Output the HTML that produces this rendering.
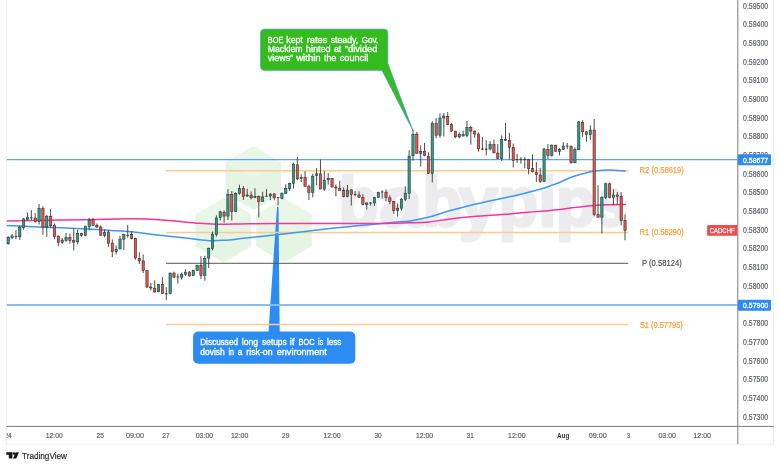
<!DOCTYPE html>
<html><head><meta charset="utf-8"><title>CADCHF chart</title>
<style>html,body{margin:0;padding:0;background:#fff;width:780px;height:467px;overflow:hidden}
body{font-family:"Liberation Sans",sans-serif;position:relative}</style></head>
<body>
<svg width="780" height="467" viewBox="0 0 780 467" style="position:absolute;left:0;top:0;will-change:transform;font-family:'Liberation Sans',sans-serif">
<rect width="780" height="467" fill="#fff"/>
<line x1="6.3" y1="0" x2="6.3" y2="444" stroke="#eeeeef" stroke-width="1"/>
<line x1="773.5" y1="0" x2="773.5" y2="444" stroke="#eeeeef" stroke-width="1"/>
<line x1="6" y1="444.3" x2="774" y2="444.3" stroke="#eeeeef" stroke-width="1"/>
<g fill="#e6f4e3">
<polygon points="253.4,145.9 281.2,161.9 281.2,194.1 253.4,210.1 225.6,194.1 225.6,161.9"/>
<polygon points="223.4,198.2 251.2,214.2 251.2,246.4 223.4,262.4 195.6,246.4 195.6,214.2"/>
<polygon points="284.0,198.2 311.8,214.2 311.8,246.4 284.0,262.4 256.2,246.4 256.2,214.2"/>
</g>
<g fill="#ffffff" opacity="0.18">
<polygon points="253.4,145.9 281.2,161.9 253.4,178.0 225.6,161.9"/>
<polygon points="223.4,198.2 251.2,214.2 223.4,230.3 195.6,214.2"/>
<polygon points="284.0,198.2 311.8,214.2 284.0,230.3 256.2,214.2"/>
</g>
<g font-size="70" font-weight="bold" fill="#ececee" stroke="#ececee" stroke-width="3" stroke-linejoin="round">
<text x="338.5" y="226" textLength="40.0" lengthAdjust="spacingAndGlyphs">b</text>
<text x="379.2" y="226" textLength="42.8" lengthAdjust="spacingAndGlyphs">a</text>
<text x="422.5" y="226" textLength="39.6" lengthAdjust="spacingAndGlyphs">b</text>
<text x="458.4" y="226" textLength="39.5" lengthAdjust="spacingAndGlyphs">y</text>
<text x="498.4" y="226" textLength="39.6" lengthAdjust="spacingAndGlyphs">p</text>
<text x="538.4" y="226" textLength="17.8" lengthAdjust="spacingAndGlyphs">i</text>
<text x="556.0" y="226" textLength="39.3" lengthAdjust="spacingAndGlyphs">p</text>
<text x="597.7" y="226" textLength="26.1" lengthAdjust="spacingAndGlyphs">s</text>
</g>
<g>
<polygon points="381.8,70 388,64 413,130.8" fill="#34bc1f" stroke="#3b8fd9" stroke-width="0.6"/>
<rect x="260.5" y="29.1" width="127.4" height="41.3" rx="4" fill="#34bc1f" stroke="#5b9fd8" stroke-width="0.7"/>
<polygon points="381.8,70 388,64 392,76" fill="#34bc1f"/>
<text x="267.8" y="42.6" font-size="8.4" fill="#fff" stroke="#fff" stroke-width="0.3" textLength="15.5" lengthAdjust="spacingAndGlyphs">BOE</text>
<text x="286.3" y="42.6" font-size="8.4" fill="#fff" stroke="#fff" stroke-width="0.3" textLength="16.5" lengthAdjust="spacingAndGlyphs">kept</text>
<text x="306.7" y="42.6" font-size="8.4" fill="#fff" stroke="#fff" stroke-width="0.3" textLength="20.6" lengthAdjust="spacingAndGlyphs">rates</text>
<text x="330.7" y="42.6" font-size="8.4" fill="#fff" stroke="#fff" stroke-width="0.3" textLength="27.6" lengthAdjust="spacingAndGlyphs">steady,</text>
<text x="361.7" y="42.6" font-size="8.4" fill="#fff" stroke="#fff" stroke-width="0.3" textLength="16.5" lengthAdjust="spacingAndGlyphs">Gov.</text>
<text x="267.8" y="51.9" font-size="8.4" fill="#fff" stroke="#fff" stroke-width="0.3" textLength="34.7" lengthAdjust="spacingAndGlyphs">Macklem</text>
<text x="305.8" y="51.9" font-size="8.4" fill="#fff" stroke="#fff" stroke-width="0.3" textLength="24.9" lengthAdjust="spacingAndGlyphs">hinted</text>
<text x="334.0" y="51.9" font-size="8.4" fill="#fff" stroke="#fff" stroke-width="0.3" textLength="7.2" lengthAdjust="spacingAndGlyphs">at</text>
<text x="344.8" y="51.9" font-size="8.4" fill="#fff" stroke="#fff" stroke-width="0.3" textLength="32.5" lengthAdjust="spacingAndGlyphs">&quot;divided</text>
<text x="267.8" y="61.2" font-size="8.4" fill="#fff" stroke="#fff" stroke-width="0.3" textLength="25.5" lengthAdjust="spacingAndGlyphs">views&quot;</text>
<text x="296.2" y="61.2" font-size="8.4" fill="#fff" stroke="#fff" stroke-width="0.3" textLength="24.5" lengthAdjust="spacingAndGlyphs">within</text>
<text x="324.0" y="61.2" font-size="8.4" fill="#fff" stroke="#fff" stroke-width="0.3" textLength="12.2" lengthAdjust="spacingAndGlyphs">the</text>
<text x="339.8" y="61.2" font-size="8.4" fill="#fff" stroke="#fff" stroke-width="0.3" textLength="28.4" lengthAdjust="spacingAndGlyphs">council</text>
</g>
<g>
<polygon points="277.0,206.9 278.5,206.9 279.7,333 268.4,333" fill="#2d8cf3"/>
<rect x="193.1" y="331.5" width="162.2" height="32.3" rx="5" fill="#2d8cf3"/>
<text x="200.2" y="345.4" font-size="8.4" fill="#fff" stroke="#fff" stroke-width="0.3" textLength="37.9" lengthAdjust="spacingAndGlyphs">Discussed</text>
<text x="241.8" y="345.4" font-size="8.4" fill="#fff" stroke="#fff" stroke-width="0.3" textLength="16.4" lengthAdjust="spacingAndGlyphs">long</text>
<text x="262.1" y="345.4" font-size="8.4" fill="#fff" stroke="#fff" stroke-width="0.3" textLength="24.6" lengthAdjust="spacingAndGlyphs">setups</text>
<text x="289.8" y="345.4" font-size="8.4" fill="#fff" stroke="#fff" stroke-width="0.3" textLength="4.7" lengthAdjust="spacingAndGlyphs">if</text>
<text x="298.6" y="345.4" font-size="8.4" fill="#fff" stroke="#fff" stroke-width="0.3" textLength="16.0" lengthAdjust="spacingAndGlyphs">BOC</text>
<text x="318.1" y="345.4" font-size="8.4" fill="#fff" stroke="#fff" stroke-width="0.3" textLength="5.1" lengthAdjust="spacingAndGlyphs">is</text>
<text x="326.9" y="345.4" font-size="8.4" fill="#fff" stroke="#fff" stroke-width="0.3" textLength="14.4" lengthAdjust="spacingAndGlyphs">less</text>
<text x="200.2" y="354.7" font-size="8.4" fill="#fff" stroke="#fff" stroke-width="0.3" textLength="24.6" lengthAdjust="spacingAndGlyphs">dovish</text>
<text x="228.5" y="354.7" font-size="8.4" fill="#fff" stroke="#fff" stroke-width="0.3" textLength="5.5" lengthAdjust="spacingAndGlyphs">in</text>
<text x="237.7" y="354.7" font-size="8.4" fill="#fff" stroke="#fff" stroke-width="0.3" textLength="4.5" lengthAdjust="spacingAndGlyphs">a</text>
<text x="246.3" y="354.7" font-size="8.4" fill="#fff" stroke="#fff" stroke-width="0.3" textLength="26.3" lengthAdjust="spacingAndGlyphs">risk-on</text>
<text x="276.7" y="354.7" font-size="8.4" fill="#fff" stroke="#fff" stroke-width="0.3" textLength="50.2" lengthAdjust="spacingAndGlyphs">environment</text>
</g>
<line x1="6.8" y1="159.6" x2="737.3" y2="159.6" stroke="#5aa5f2" stroke-width="1.3"/>
<line x1="6.8" y1="304.9" x2="737.3" y2="304.9" stroke="#85bdf7" stroke-width="2"/>
<line x1="166" y1="170.7" x2="628.3" y2="170.7" stroke="#f9ca96" stroke-width="1.5"/>
<line x1="166" y1="232.4" x2="628.3" y2="232.4" stroke="#f9ca96" stroke-width="1.5"/>
<line x1="166" y1="324.5" x2="628.3" y2="324.5" stroke="#f9ca96" stroke-width="1.5"/>
<line x1="166" y1="263.3" x2="628.3" y2="263.3" stroke="#555" stroke-width="1"/>
<path d="M6.80,225.40 C11.13,225.62 23.68,226.32 32.80,226.70 C41.92,227.08 53.30,227.37 61.50,227.70 C69.70,228.03 73.78,228.25 82.00,228.70 C90.22,229.15 102.58,229.88 110.80,230.40 C119.02,230.92 123.10,230.98 131.30,231.80 C139.50,232.62 150.22,234.17 160.00,235.30 C169.78,236.43 181.78,237.70 190.00,238.60 C198.22,239.50 203.47,240.43 209.30,240.70 C215.13,240.97 219.65,240.55 225.00,240.20 C230.35,239.85 230.57,239.77 241.40,238.60 C252.23,237.43 275.23,234.87 290.00,233.20 C304.77,231.53 318.33,229.87 330.00,228.60 C341.67,227.33 351.38,226.45 360.00,225.60 C368.62,224.75 375.03,224.13 381.70,223.50 C388.37,222.87 395.28,222.23 400.00,221.80 C404.72,221.37 405.12,221.70 410.00,220.90 C414.88,220.10 422.87,218.65 429.30,217.00 C435.73,215.35 442.18,212.83 448.60,211.00 C455.02,209.17 461.38,207.57 467.80,206.00 C474.22,204.43 480.67,203.03 487.10,201.60 C493.53,200.17 499.97,198.83 506.40,197.40 C512.83,195.97 519.27,194.62 525.70,193.00 C532.13,191.38 540.55,189.03 545.00,187.70 C549.45,186.37 549.90,185.92 552.40,185.00 C554.90,184.08 556.73,183.53 560.00,182.20 C563.27,180.87 567.83,178.50 572.00,177.00 C576.17,175.50 581.35,174.18 585.00,173.20 C588.65,172.22 590.90,171.60 593.90,171.10 C596.90,170.60 600.15,170.38 603.00,170.20 C605.85,170.02 608.50,169.97 611.00,170.00 C613.50,170.03 615.58,170.18 618.00,170.40 C620.42,170.62 624.25,171.15 625.50,171.30" fill="none" stroke="#3f97f3" stroke-width="1.5" stroke-linejoin="round"/>
<path d="M6.80,221.10 C11.13,221.00 20.27,220.73 32.80,220.50 C45.33,220.27 66.30,219.98 82.00,219.70 C97.70,219.42 116.27,218.93 127.00,218.80 C137.73,218.67 139.23,218.60 146.40,218.90 C153.57,219.20 161.90,219.92 170.00,220.60 C178.10,221.28 187.38,222.40 195.00,223.00 C202.62,223.60 206.53,224.08 215.70,224.20 C224.87,224.32 237.62,223.82 250.00,223.70 C262.38,223.58 276.67,223.53 290.00,223.50 C303.33,223.47 314.72,223.52 330.00,223.50 C345.28,223.48 368.37,223.52 381.70,223.40 C395.03,223.28 402.07,223.05 410.00,222.80 C417.93,222.55 422.87,222.50 429.30,221.90 C435.73,221.30 442.18,220.00 448.60,219.20 C455.02,218.40 461.38,217.72 467.80,217.10 C474.22,216.48 480.67,215.98 487.10,215.50 C493.53,215.02 499.97,214.72 506.40,214.20 C512.83,213.68 519.27,212.95 525.70,212.40 C532.13,211.85 539.28,211.38 545.00,210.90 C550.72,210.42 555.50,210.02 560.00,209.50 C564.50,208.98 566.35,208.48 572.00,207.80 C577.65,207.12 587.57,205.90 593.90,205.40 C600.23,204.90 604.65,204.93 610.00,204.80 C615.35,204.67 623.33,204.63 626.00,204.60" fill="none" stroke="#f5359a" stroke-width="1.5" stroke-linejoin="round"/>
<g>
<line x1="8.22" y1="236.4" x2="8.22" y2="244.5" stroke="#383838" stroke-width="0.9"/>
<rect x="7.07" y="237.2" width="2.30" height="6.6" fill="#26a08c" stroke="#2a2a2a" stroke-width="0.55"/>
<line x1="12.08" y1="233.9" x2="12.08" y2="239.3" stroke="#383838" stroke-width="0.9"/>
<rect x="10.93" y="235.9" width="2.30" height="1.8" fill="#26a08c" stroke="#2a2a2a" stroke-width="0.55"/>
<line x1="15.93" y1="230.3" x2="15.93" y2="239.3" stroke="#383838" stroke-width="0.9"/>
<line x1="14.63" y1="236.4" x2="17.23" y2="236.4" stroke="#333" stroke-width="0.9"/>
<line x1="19.79" y1="225.6" x2="19.79" y2="240.0" stroke="#383838" stroke-width="0.9"/>
<rect x="18.64" y="227.1" width="2.30" height="9.7" fill="#26a08c" stroke="#2a2a2a" stroke-width="0.55"/>
<line x1="23.64" y1="217.9" x2="23.64" y2="229.7" stroke="#383838" stroke-width="0.9"/>
<rect x="22.49" y="219.0" width="2.30" height="8.5" fill="#26a08c" stroke="#2a2a2a" stroke-width="0.55"/>
<line x1="27.49" y1="212.7" x2="27.49" y2="220.7" stroke="#383838" stroke-width="0.9"/>
<rect x="26.34" y="217.1" width="2.30" height="2.3" fill="#26a08c" stroke="#2a2a2a" stroke-width="0.55"/>
<line x1="31.35" y1="210.2" x2="31.35" y2="220.1" stroke="#383838" stroke-width="0.9"/>
<line x1="30.05" y1="217.8" x2="32.65" y2="217.8" stroke="#333" stroke-width="0.9"/>
<line x1="35.20" y1="213.0" x2="35.20" y2="222.6" stroke="#383838" stroke-width="0.9"/>
<rect x="34.05" y="218.1" width="2.30" height="3.6" fill="#ee4f49" stroke="#2a2a2a" stroke-width="0.55"/>
<line x1="39.06" y1="204.0" x2="39.06" y2="224.6" stroke="#383838" stroke-width="0.9"/>
<rect x="37.91" y="208.5" width="2.30" height="13.2" fill="#26a08c" stroke="#2a2a2a" stroke-width="0.55"/>
<line x1="42.91" y1="206.3" x2="42.91" y2="234.8" stroke="#383838" stroke-width="0.9"/>
<rect x="41.77" y="208.5" width="2.30" height="18.6" fill="#ee4f49" stroke="#2a2a2a" stroke-width="0.55"/>
<line x1="46.77" y1="214.9" x2="46.77" y2="236.8" stroke="#383838" stroke-width="0.9"/>
<rect x="45.62" y="216.2" width="2.30" height="10.9" fill="#26a08c" stroke="#2a2a2a" stroke-width="0.55"/>
<line x1="50.62" y1="209.1" x2="50.62" y2="228.4" stroke="#383838" stroke-width="0.9"/>
<rect x="49.48" y="216.2" width="2.30" height="9.6" fill="#ee4f49" stroke="#2a2a2a" stroke-width="0.55"/>
<line x1="54.48" y1="223.5" x2="54.48" y2="239.3" stroke="#383838" stroke-width="0.9"/>
<rect x="53.33" y="225.2" width="2.30" height="11.3" fill="#ee4f49" stroke="#2a2a2a" stroke-width="0.55"/>
<line x1="58.34" y1="235.5" x2="58.34" y2="246.2" stroke="#383838" stroke-width="0.9"/>
<rect x="57.19" y="236.1" width="2.30" height="6.2" fill="#ee4f49" stroke="#2a2a2a" stroke-width="0.55"/>
<line x1="62.19" y1="238.1" x2="62.19" y2="243.8" stroke="#383838" stroke-width="0.9"/>
<rect x="61.04" y="240.0" width="2.30" height="2.3" fill="#26a08c" stroke="#2a2a2a" stroke-width="0.55"/>
<line x1="66.05" y1="232.9" x2="66.05" y2="241.9" stroke="#383838" stroke-width="0.9"/>
<rect x="64.89" y="237.4" width="2.30" height="3.2" fill="#26a08c" stroke="#2a2a2a" stroke-width="0.55"/>
<line x1="69.90" y1="233.6" x2="69.90" y2="243.6" stroke="#383838" stroke-width="0.9"/>
<rect x="68.75" y="237.4" width="2.30" height="3.2" fill="#ee4f49" stroke="#2a2a2a" stroke-width="0.55"/>
<line x1="73.75" y1="228.2" x2="73.75" y2="250.3" stroke="#383838" stroke-width="0.9"/>
<rect x="72.60" y="240.2" width="2.30" height="2.0" fill="#ee4f49" stroke="#2a2a2a" stroke-width="0.55"/>
<line x1="77.61" y1="229.7" x2="77.61" y2="244.5" stroke="#383838" stroke-width="0.9"/>
<rect x="76.46" y="233.3" width="2.30" height="8.6" fill="#26a08c" stroke="#2a2a2a" stroke-width="0.55"/>
<line x1="81.47" y1="232.9" x2="81.47" y2="236.8" stroke="#383838" stroke-width="0.9"/>
<rect x="80.31" y="233.3" width="2.30" height="2.2" fill="#ee4f49" stroke="#2a2a2a" stroke-width="0.55"/>
<line x1="85.32" y1="225.8" x2="85.32" y2="236.4" stroke="#383838" stroke-width="0.9"/>
<rect x="84.17" y="226.2" width="2.30" height="9.3" fill="#26a08c" stroke="#2a2a2a" stroke-width="0.55"/>
<line x1="89.17" y1="217.9" x2="89.17" y2="230.3" stroke="#383838" stroke-width="0.9"/>
<rect x="88.02" y="220.1" width="2.30" height="6.4" fill="#26a08c" stroke="#2a2a2a" stroke-width="0.55"/>
<line x1="93.03" y1="218.1" x2="93.03" y2="225.8" stroke="#383838" stroke-width="0.9"/>
<rect x="91.88" y="219.8" width="2.30" height="5.4" fill="#ee4f49" stroke="#2a2a2a" stroke-width="0.55"/>
<line x1="96.89" y1="223.5" x2="96.89" y2="227.9" stroke="#383838" stroke-width="0.9"/>
<rect x="95.73" y="225.2" width="2.30" height="1.9" fill="#ee4f49" stroke="#2a2a2a" stroke-width="0.55"/>
<line x1="100.74" y1="225.6" x2="100.74" y2="235.6" stroke="#383838" stroke-width="0.9"/>
<rect x="99.59" y="227.1" width="2.30" height="8.1" fill="#ee4f49" stroke="#2a2a2a" stroke-width="0.55"/>
<line x1="104.59" y1="229.4" x2="104.59" y2="237.1" stroke="#383838" stroke-width="0.9"/>
<rect x="103.44" y="232.2" width="2.30" height="3.3" fill="#26a08c" stroke="#2a2a2a" stroke-width="0.55"/>
<line x1="108.45" y1="230.1" x2="108.45" y2="246.8" stroke="#383838" stroke-width="0.9"/>
<rect x="107.30" y="232.0" width="2.30" height="11.2" fill="#ee4f49" stroke="#2a2a2a" stroke-width="0.55"/>
<line x1="112.30" y1="239.4" x2="112.30" y2="257.1" stroke="#383838" stroke-width="0.9"/>
<rect x="111.15" y="243.2" width="2.30" height="8.5" fill="#ee4f49" stroke="#2a2a2a" stroke-width="0.55"/>
<line x1="116.16" y1="245.5" x2="116.16" y2="254.5" stroke="#383838" stroke-width="0.9"/>
<rect x="115.01" y="249.3" width="2.30" height="2.2" fill="#26a08c" stroke="#2a2a2a" stroke-width="0.55"/>
<line x1="120.02" y1="235.8" x2="120.02" y2="249.3" stroke="#383838" stroke-width="0.9"/>
<rect x="118.86" y="239.1" width="2.30" height="9.9" fill="#26a08c" stroke="#2a2a2a" stroke-width="0.55"/>
<line x1="123.87" y1="233.9" x2="123.87" y2="250.0" stroke="#383838" stroke-width="0.9"/>
<rect x="122.72" y="234.6" width="2.30" height="4.5" fill="#26a08c" stroke="#2a2a2a" stroke-width="0.55"/>
<line x1="127.72" y1="224.9" x2="127.72" y2="237.8" stroke="#383838" stroke-width="0.9"/>
<line x1="126.42" y1="235.4" x2="129.03" y2="235.4" stroke="#333" stroke-width="0.9"/>
<line x1="131.58" y1="231.3" x2="131.58" y2="239.4" stroke="#383838" stroke-width="0.9"/>
<rect x="130.43" y="234.3" width="2.30" height="4.4" fill="#ee4f49" stroke="#2a2a2a" stroke-width="0.55"/>
<line x1="135.44" y1="237.8" x2="135.44" y2="259.6" stroke="#383838" stroke-width="0.9"/>
<rect x="134.28" y="238.4" width="2.30" height="19.6" fill="#ee4f49" stroke="#2a2a2a" stroke-width="0.55"/>
<line x1="139.29" y1="252.3" x2="139.29" y2="264.1" stroke="#383838" stroke-width="0.9"/>
<rect x="138.14" y="258.3" width="2.30" height="2.6" fill="#ee4f49" stroke="#2a2a2a" stroke-width="0.55"/>
<line x1="143.15" y1="254.5" x2="143.15" y2="273.1" stroke="#383838" stroke-width="0.9"/>
<rect x="142.00" y="260.9" width="2.30" height="9.7" fill="#ee4f49" stroke="#2a2a2a" stroke-width="0.55"/>
<line x1="147.00" y1="270.0" x2="147.00" y2="288.0" stroke="#383838" stroke-width="0.9"/>
<rect x="145.85" y="270.6" width="2.30" height="16.4" fill="#ee4f49" stroke="#2a2a2a" stroke-width="0.55"/>
<line x1="150.85" y1="282.8" x2="150.85" y2="290.5" stroke="#383838" stroke-width="0.9"/>
<rect x="149.70" y="287.0" width="2.30" height="1.0" fill="#ee4f49" stroke="#2a2a2a" stroke-width="0.55"/>
<line x1="154.71" y1="280.5" x2="154.71" y2="292.4" stroke="#383838" stroke-width="0.9"/>
<rect x="153.56" y="288.2" width="2.30" height="3.8" fill="#ee4f49" stroke="#2a2a2a" stroke-width="0.55"/>
<line x1="158.56" y1="284.0" x2="158.56" y2="292.2" stroke="#383838" stroke-width="0.9"/>
<rect x="157.41" y="284.4" width="2.30" height="7.4" fill="#26a08c" stroke="#2a2a2a" stroke-width="0.55"/>
<line x1="162.42" y1="277.2" x2="162.42" y2="294.0" stroke="#383838" stroke-width="0.9"/>
<rect x="161.27" y="284.4" width="2.30" height="9.3" fill="#ee4f49" stroke="#2a2a2a" stroke-width="0.55"/>
<line x1="166.28" y1="287.3" x2="166.28" y2="300.1" stroke="#383838" stroke-width="0.9"/>
<line x1="164.97" y1="293.8" x2="167.58" y2="293.8" stroke="#333" stroke-width="0.9"/>
<line x1="170.13" y1="272.5" x2="170.13" y2="294.3" stroke="#383838" stroke-width="0.9"/>
<rect x="168.98" y="273.1" width="2.30" height="20.6" fill="#26a08c" stroke="#2a2a2a" stroke-width="0.55"/>
<line x1="173.98" y1="271.6" x2="173.98" y2="278.0" stroke="#383838" stroke-width="0.9"/>
<rect x="172.83" y="273.1" width="2.30" height="4.1" fill="#ee4f49" stroke="#2a2a2a" stroke-width="0.55"/>
<line x1="177.84" y1="273.8" x2="177.84" y2="283.7" stroke="#383838" stroke-width="0.9"/>
<line x1="176.54" y1="277.0" x2="179.14" y2="277.0" stroke="#333" stroke-width="0.9"/>
<line x1="181.69" y1="272.5" x2="181.69" y2="279.8" stroke="#383838" stroke-width="0.9"/>
<rect x="180.54" y="274.2" width="2.30" height="3.0" fill="#26a08c" stroke="#2a2a2a" stroke-width="0.55"/>
<line x1="185.55" y1="269.3" x2="185.55" y2="275.7" stroke="#383838" stroke-width="0.9"/>
<rect x="184.40" y="272.1" width="2.30" height="2.3" fill="#26a08c" stroke="#2a2a2a" stroke-width="0.55"/>
<line x1="189.41" y1="271.2" x2="189.41" y2="276.7" stroke="#383838" stroke-width="0.9"/>
<rect x="188.25" y="272.1" width="2.30" height="3.9" fill="#ee4f49" stroke="#2a2a2a" stroke-width="0.55"/>
<line x1="193.26" y1="269.9" x2="193.26" y2="276.1" stroke="#383838" stroke-width="0.9"/>
<rect x="192.11" y="270.3" width="2.30" height="5.4" fill="#26a08c" stroke="#2a2a2a" stroke-width="0.55"/>
<line x1="197.12" y1="264.8" x2="197.12" y2="270.8" stroke="#383838" stroke-width="0.9"/>
<rect x="195.97" y="265.2" width="2.30" height="5.1" fill="#26a08c" stroke="#2a2a2a" stroke-width="0.55"/>
<line x1="200.97" y1="256.2" x2="200.97" y2="278.9" stroke="#383838" stroke-width="0.9"/>
<rect x="199.82" y="265.2" width="2.30" height="10.5" fill="#ee4f49" stroke="#2a2a2a" stroke-width="0.55"/>
<line x1="204.82" y1="255.8" x2="204.82" y2="280.8" stroke="#383838" stroke-width="0.9"/>
<rect x="203.67" y="258.4" width="2.30" height="17.3" fill="#26a08c" stroke="#2a2a2a" stroke-width="0.55"/>
<line x1="208.68" y1="247.6" x2="208.68" y2="268.0" stroke="#383838" stroke-width="0.9"/>
<rect x="207.53" y="248.2" width="2.30" height="9.9" fill="#26a08c" stroke="#2a2a2a" stroke-width="0.55"/>
<line x1="212.53" y1="231.5" x2="212.53" y2="250.4" stroke="#383838" stroke-width="0.9"/>
<rect x="211.38" y="234.1" width="2.30" height="14.5" fill="#26a08c" stroke="#2a2a2a" stroke-width="0.55"/>
<line x1="216.39" y1="215.4" x2="216.39" y2="236.6" stroke="#383838" stroke-width="0.9"/>
<rect x="215.24" y="218.0" width="2.30" height="16.4" fill="#26a08c" stroke="#2a2a2a" stroke-width="0.55"/>
<line x1="220.25" y1="210.9" x2="220.25" y2="220.6" stroke="#383838" stroke-width="0.9"/>
<rect x="219.09" y="211.8" width="2.30" height="5.9" fill="#26a08c" stroke="#2a2a2a" stroke-width="0.55"/>
<line x1="224.10" y1="210.3" x2="224.10" y2="222.5" stroke="#383838" stroke-width="0.9"/>
<rect x="222.95" y="212.2" width="2.30" height="3.9" fill="#ee4f49" stroke="#2a2a2a" stroke-width="0.55"/>
<line x1="227.95" y1="189.2" x2="227.95" y2="220.0" stroke="#383838" stroke-width="0.9"/>
<rect x="226.80" y="194.3" width="2.30" height="21.8" fill="#26a08c" stroke="#2a2a2a" stroke-width="0.55"/>
<line x1="231.81" y1="191.1" x2="231.81" y2="220.6" stroke="#383838" stroke-width="0.9"/>
<rect x="230.66" y="194.3" width="2.30" height="17.3" fill="#ee4f49" stroke="#2a2a2a" stroke-width="0.55"/>
<line x1="235.66" y1="192.4" x2="235.66" y2="212.0" stroke="#383838" stroke-width="0.9"/>
<rect x="234.51" y="193.4" width="2.30" height="18.2" fill="#26a08c" stroke="#2a2a2a" stroke-width="0.55"/>
<line x1="239.52" y1="184.7" x2="239.52" y2="194.7" stroke="#383838" stroke-width="0.9"/>
<rect x="238.37" y="188.6" width="2.30" height="4.8" fill="#26a08c" stroke="#2a2a2a" stroke-width="0.55"/>
<line x1="243.38" y1="186.0" x2="243.38" y2="199.9" stroke="#383838" stroke-width="0.9"/>
<rect x="242.22" y="188.3" width="2.30" height="8.2" fill="#ee4f49" stroke="#2a2a2a" stroke-width="0.55"/>
<line x1="247.23" y1="188.6" x2="247.23" y2="196.9" stroke="#383838" stroke-width="0.9"/>
<rect x="246.08" y="195.0" width="2.30" height="1.0" fill="#26a08c" stroke="#2a2a2a" stroke-width="0.55"/>
<line x1="251.09" y1="191.4" x2="251.09" y2="199.5" stroke="#383838" stroke-width="0.9"/>
<rect x="249.94" y="195.2" width="2.30" height="2.6" fill="#ee4f49" stroke="#2a2a2a" stroke-width="0.55"/>
<line x1="254.94" y1="188.3" x2="254.94" y2="198.2" stroke="#383838" stroke-width="0.9"/>
<rect x="253.79" y="196.3" width="2.30" height="1.3" fill="#26a08c" stroke="#2a2a2a" stroke-width="0.55"/>
<line x1="258.80" y1="195.6" x2="258.80" y2="217.4" stroke="#383838" stroke-width="0.9"/>
<rect x="257.65" y="196.5" width="2.30" height="4.9" fill="#ee4f49" stroke="#2a2a2a" stroke-width="0.55"/>
<line x1="262.65" y1="191.8" x2="262.65" y2="202.0" stroke="#383838" stroke-width="0.9"/>
<rect x="261.50" y="196.9" width="2.30" height="4.5" fill="#26a08c" stroke="#2a2a2a" stroke-width="0.55"/>
<line x1="266.51" y1="189.2" x2="266.51" y2="196.5" stroke="#383838" stroke-width="0.9"/>
<line x1="265.21" y1="196.2" x2="267.81" y2="196.2" stroke="#333" stroke-width="0.9"/>
<line x1="270.36" y1="193.4" x2="270.36" y2="200.1" stroke="#383838" stroke-width="0.9"/>
<rect x="269.21" y="194.0" width="2.30" height="2.0" fill="#26a08c" stroke="#2a2a2a" stroke-width="0.55"/>
<line x1="274.22" y1="193.0" x2="274.22" y2="200.4" stroke="#383838" stroke-width="0.9"/>
<rect x="273.07" y="194.0" width="2.30" height="3.8" fill="#ee4f49" stroke="#2a2a2a" stroke-width="0.55"/>
<line x1="278.07" y1="197.3" x2="278.07" y2="205.3" stroke="#383838" stroke-width="0.9"/>
<line x1="276.77" y1="197.5" x2="279.37" y2="197.5" stroke="#333" stroke-width="0.9"/>
<line x1="281.93" y1="192.4" x2="281.93" y2="199.5" stroke="#383838" stroke-width="0.9"/>
<rect x="280.78" y="193.4" width="2.30" height="5.2" fill="#26a08c" stroke="#2a2a2a" stroke-width="0.55"/>
<line x1="285.78" y1="184.4" x2="285.78" y2="193.7" stroke="#383838" stroke-width="0.9"/>
<rect x="284.63" y="188.6" width="2.30" height="4.8" fill="#26a08c" stroke="#2a2a2a" stroke-width="0.55"/>
<line x1="289.64" y1="182.8" x2="289.64" y2="190.9" stroke="#383838" stroke-width="0.9"/>
<rect x="288.49" y="183.4" width="2.30" height="5.2" fill="#26a08c" stroke="#2a2a2a" stroke-width="0.55"/>
<line x1="293.49" y1="162.6" x2="293.49" y2="188.6" stroke="#383838" stroke-width="0.9"/>
<rect x="292.34" y="164.1" width="2.30" height="19.3" fill="#26a08c" stroke="#2a2a2a" stroke-width="0.55"/>
<line x1="297.35" y1="157.0" x2="297.35" y2="180.2" stroke="#383838" stroke-width="0.9"/>
<rect x="296.20" y="164.8" width="2.30" height="14.1" fill="#ee4f49" stroke="#2a2a2a" stroke-width="0.55"/>
<line x1="301.20" y1="174.4" x2="301.20" y2="182.1" stroke="#383838" stroke-width="0.9"/>
<rect x="300.05" y="177.6" width="2.30" height="0.9" fill="#26a08c" stroke="#2a2a2a" stroke-width="0.55"/>
<line x1="305.06" y1="171.2" x2="305.06" y2="186.6" stroke="#383838" stroke-width="0.9"/>
<rect x="303.91" y="177.6" width="2.30" height="8.8" fill="#ee4f49" stroke="#2a2a2a" stroke-width="0.55"/>
<line x1="308.91" y1="184.7" x2="308.91" y2="200.1" stroke="#383838" stroke-width="0.9"/>
<rect x="307.76" y="186.4" width="2.30" height="6.0" fill="#ee4f49" stroke="#2a2a2a" stroke-width="0.55"/>
<line x1="312.77" y1="173.8" x2="312.77" y2="197.3" stroke="#383838" stroke-width="0.9"/>
<rect x="311.62" y="176.1" width="2.30" height="16.3" fill="#26a08c" stroke="#2a2a2a" stroke-width="0.55"/>
<line x1="316.62" y1="168.0" x2="316.62" y2="185.3" stroke="#383838" stroke-width="0.9"/>
<rect x="315.47" y="173.8" width="2.30" height="1.9" fill="#26a08c" stroke="#2a2a2a" stroke-width="0.55"/>
<line x1="320.48" y1="159.6" x2="320.48" y2="189.2" stroke="#383838" stroke-width="0.9"/>
<rect x="319.33" y="173.8" width="2.30" height="15.2" fill="#ee4f49" stroke="#2a2a2a" stroke-width="0.55"/>
<line x1="324.33" y1="171.2" x2="324.33" y2="190.9" stroke="#383838" stroke-width="0.9"/>
<rect x="323.18" y="180.2" width="2.30" height="9.0" fill="#26a08c" stroke="#2a2a2a" stroke-width="0.55"/>
<line x1="328.19" y1="173.1" x2="328.19" y2="184.7" stroke="#383838" stroke-width="0.9"/>
<rect x="327.04" y="178.3" width="2.30" height="1.5" fill="#26a08c" stroke="#2a2a2a" stroke-width="0.55"/>
<line x1="332.04" y1="178.0" x2="332.04" y2="187.5" stroke="#383838" stroke-width="0.9"/>
<rect x="330.89" y="178.3" width="2.30" height="8.7" fill="#ee4f49" stroke="#2a2a2a" stroke-width="0.55"/>
<line x1="335.90" y1="184.4" x2="335.90" y2="196.3" stroke="#383838" stroke-width="0.9"/>
<rect x="334.75" y="187.0" width="2.30" height="1.0" fill="#ee4f49" stroke="#2a2a2a" stroke-width="0.55"/>
<line x1="339.75" y1="180.8" x2="339.75" y2="190.9" stroke="#383838" stroke-width="0.9"/>
<rect x="338.60" y="188.3" width="2.30" height="2.2" fill="#ee4f49" stroke="#2a2a2a" stroke-width="0.55"/>
<line x1="343.61" y1="187.3" x2="343.61" y2="197.3" stroke="#383838" stroke-width="0.9"/>
<rect x="342.46" y="190.5" width="2.30" height="6.0" fill="#ee4f49" stroke="#2a2a2a" stroke-width="0.55"/>
<line x1="347.46" y1="185.0" x2="347.46" y2="197.3" stroke="#383838" stroke-width="0.9"/>
<rect x="346.31" y="190.1" width="2.30" height="6.4" fill="#26a08c" stroke="#2a2a2a" stroke-width="0.55"/>
<line x1="351.31" y1="189.2" x2="351.31" y2="205.5" stroke="#383838" stroke-width="0.9"/>
<rect x="350.17" y="189.8" width="2.30" height="4.8" fill="#ee4f49" stroke="#2a2a2a" stroke-width="0.55"/>
<line x1="355.17" y1="191.1" x2="355.17" y2="196.3" stroke="#383838" stroke-width="0.9"/>
<line x1="353.87" y1="194.5" x2="356.47" y2="194.5" stroke="#333" stroke-width="0.9"/>
<line x1="359.03" y1="191.4" x2="359.03" y2="197.8" stroke="#383838" stroke-width="0.9"/>
<rect x="357.88" y="195.0" width="2.30" height="2.3" fill="#ee4f49" stroke="#2a2a2a" stroke-width="0.55"/>
<line x1="362.88" y1="194.3" x2="362.88" y2="205.3" stroke="#383838" stroke-width="0.9"/>
<rect x="361.73" y="197.3" width="2.30" height="7.3" fill="#ee4f49" stroke="#2a2a2a" stroke-width="0.55"/>
<line x1="366.74" y1="202.4" x2="366.74" y2="209.4" stroke="#383838" stroke-width="0.9"/>
<rect x="365.59" y="203.0" width="2.30" height="1.6" fill="#26a08c" stroke="#2a2a2a" stroke-width="0.55"/>
<line x1="370.59" y1="202.0" x2="370.59" y2="205.5" stroke="#383838" stroke-width="0.9"/>
<line x1="369.29" y1="203.0" x2="371.89" y2="203.0" stroke="#333" stroke-width="0.9"/>
<line x1="374.45" y1="196.9" x2="374.45" y2="205.9" stroke="#383838" stroke-width="0.9"/>
<rect x="373.30" y="197.3" width="2.30" height="5.7" fill="#26a08c" stroke="#2a2a2a" stroke-width="0.55"/>
<line x1="378.30" y1="191.5" x2="378.30" y2="197.7" stroke="#383838" stroke-width="0.9"/>
<rect x="377.15" y="192.6" width="2.30" height="4.8" fill="#26a08c" stroke="#2a2a2a" stroke-width="0.55"/>
<line x1="382.16" y1="190.2" x2="382.16" y2="198.6" stroke="#383838" stroke-width="0.9"/>
<line x1="380.86" y1="192.0" x2="383.46" y2="192.0" stroke="#333" stroke-width="0.9"/>
<line x1="386.01" y1="189.3" x2="386.01" y2="201.4" stroke="#383838" stroke-width="0.9"/>
<rect x="384.86" y="192.1" width="2.30" height="5.6" fill="#ee4f49" stroke="#2a2a2a" stroke-width="0.55"/>
<line x1="389.87" y1="195.3" x2="389.87" y2="204.3" stroke="#383838" stroke-width="0.9"/>
<rect x="388.72" y="197.9" width="2.30" height="3.5" fill="#ee4f49" stroke="#2a2a2a" stroke-width="0.55"/>
<line x1="393.72" y1="200.9" x2="393.72" y2="213.7" stroke="#383838" stroke-width="0.9"/>
<rect x="392.57" y="201.4" width="2.30" height="9.1" fill="#ee4f49" stroke="#2a2a2a" stroke-width="0.55"/>
<line x1="397.58" y1="203.7" x2="397.58" y2="216.6" stroke="#383838" stroke-width="0.9"/>
<rect x="396.43" y="208.2" width="2.30" height="2.3" fill="#26a08c" stroke="#2a2a2a" stroke-width="0.55"/>
<line x1="401.43" y1="197.9" x2="401.43" y2="210.8" stroke="#383838" stroke-width="0.9"/>
<rect x="400.28" y="199.2" width="2.30" height="9.0" fill="#26a08c" stroke="#2a2a2a" stroke-width="0.55"/>
<line x1="405.29" y1="186.3" x2="405.29" y2="201.1" stroke="#383838" stroke-width="0.9"/>
<rect x="404.14" y="193.2" width="2.30" height="6.0" fill="#26a08c" stroke="#2a2a2a" stroke-width="0.55"/>
<line x1="409.14" y1="150.2" x2="409.14" y2="199.2" stroke="#383838" stroke-width="0.9"/>
<rect x="407.99" y="156.2" width="2.30" height="37.0" fill="#26a08c" stroke="#2a2a2a" stroke-width="0.55"/>
<line x1="413.00" y1="129.6" x2="413.00" y2="160.7" stroke="#383838" stroke-width="0.9"/>
<rect x="411.85" y="134.3" width="2.30" height="21.5" fill="#26a08c" stroke="#2a2a2a" stroke-width="0.55"/>
<line x1="416.85" y1="131.8" x2="416.85" y2="153.6" stroke="#383838" stroke-width="0.9"/>
<rect x="415.70" y="134.3" width="2.30" height="18.9" fill="#ee4f49" stroke="#2a2a2a" stroke-width="0.55"/>
<line x1="420.71" y1="145.3" x2="420.71" y2="166.5" stroke="#383838" stroke-width="0.9"/>
<rect x="419.56" y="151.7" width="2.30" height="1.9" fill="#26a08c" stroke="#2a2a2a" stroke-width="0.55"/>
<line x1="424.56" y1="143.0" x2="424.56" y2="156.2" stroke="#383838" stroke-width="0.9"/>
<rect x="423.41" y="151.4" width="2.30" height="4.2" fill="#ee4f49" stroke="#2a2a2a" stroke-width="0.55"/>
<line x1="428.42" y1="152.3" x2="428.42" y2="173.8" stroke="#383838" stroke-width="0.9"/>
<rect x="427.27" y="156.2" width="2.30" height="17.3" fill="#ee4f49" stroke="#2a2a2a" stroke-width="0.55"/>
<line x1="432.27" y1="121.2" x2="432.27" y2="182.5" stroke="#383838" stroke-width="0.9"/>
<rect x="431.12" y="123.2" width="2.30" height="50.3" fill="#26a08c" stroke="#2a2a2a" stroke-width="0.55"/>
<line x1="436.12" y1="118.0" x2="436.12" y2="138.2" stroke="#383838" stroke-width="0.9"/>
<rect x="434.98" y="123.4" width="2.30" height="11.8" fill="#ee4f49" stroke="#2a2a2a" stroke-width="0.55"/>
<line x1="439.98" y1="113.4" x2="439.98" y2="137.8" stroke="#383838" stroke-width="0.9"/>
<rect x="438.83" y="118.0" width="2.30" height="17.2" fill="#26a08c" stroke="#2a2a2a" stroke-width="0.55"/>
<line x1="443.84" y1="113.1" x2="443.84" y2="136.5" stroke="#383838" stroke-width="0.9"/>
<rect x="442.69" y="116.0" width="2.30" height="2.0" fill="#26a08c" stroke="#2a2a2a" stroke-width="0.55"/>
<line x1="447.69" y1="112.1" x2="447.69" y2="124.7" stroke="#383838" stroke-width="0.9"/>
<rect x="446.54" y="116.4" width="2.30" height="8.1" fill="#ee4f49" stroke="#2a2a2a" stroke-width="0.55"/>
<line x1="451.55" y1="123.2" x2="451.55" y2="131.8" stroke="#383838" stroke-width="0.9"/>
<rect x="450.40" y="124.7" width="2.30" height="6.4" fill="#ee4f49" stroke="#2a2a2a" stroke-width="0.55"/>
<line x1="455.40" y1="130.9" x2="455.40" y2="138.2" stroke="#383838" stroke-width="0.9"/>
<rect x="454.25" y="131.1" width="2.30" height="5.8" fill="#ee4f49" stroke="#2a2a2a" stroke-width="0.55"/>
<line x1="459.26" y1="132.4" x2="459.26" y2="138.2" stroke="#383838" stroke-width="0.9"/>
<rect x="458.11" y="134.3" width="2.30" height="2.6" fill="#26a08c" stroke="#2a2a2a" stroke-width="0.55"/>
<line x1="463.11" y1="130.5" x2="463.11" y2="136.5" stroke="#383838" stroke-width="0.9"/>
<rect x="461.96" y="134.7" width="2.30" height="1.3" fill="#ee4f49" stroke="#2a2a2a" stroke-width="0.55"/>
<line x1="466.97" y1="120.9" x2="466.97" y2="137.3" stroke="#383838" stroke-width="0.9"/>
<rect x="465.82" y="127.5" width="2.30" height="7.9" fill="#26a08c" stroke="#2a2a2a" stroke-width="0.55"/>
<line x1="470.82" y1="126.0" x2="470.82" y2="144.6" stroke="#383838" stroke-width="0.9"/>
<rect x="469.67" y="127.5" width="2.30" height="3.6" fill="#ee4f49" stroke="#2a2a2a" stroke-width="0.55"/>
<line x1="474.68" y1="130.5" x2="474.68" y2="137.8" stroke="#383838" stroke-width="0.9"/>
<rect x="473.53" y="131.1" width="2.30" height="2.9" fill="#ee4f49" stroke="#2a2a2a" stroke-width="0.55"/>
<line x1="478.53" y1="132.4" x2="478.53" y2="151.7" stroke="#383838" stroke-width="0.9"/>
<rect x="477.38" y="134.1" width="2.30" height="14.8" fill="#ee4f49" stroke="#2a2a2a" stroke-width="0.55"/>
<line x1="482.39" y1="136.9" x2="482.39" y2="150.2" stroke="#383838" stroke-width="0.9"/>
<line x1="481.09" y1="149.1" x2="483.69" y2="149.1" stroke="#333" stroke-width="0.9"/>
<line x1="486.24" y1="140.3" x2="486.24" y2="155.5" stroke="#383838" stroke-width="0.9"/>
<line x1="484.94" y1="149.3" x2="487.54" y2="149.3" stroke="#333" stroke-width="0.9"/>
<line x1="490.10" y1="141.0" x2="490.10" y2="150.4" stroke="#383838" stroke-width="0.9"/>
<rect x="488.95" y="144.5" width="2.30" height="4.5" fill="#26a08c" stroke="#2a2a2a" stroke-width="0.55"/>
<line x1="493.95" y1="139.6" x2="493.95" y2="153.4" stroke="#383838" stroke-width="0.9"/>
<rect x="492.80" y="144.5" width="2.30" height="8.3" fill="#ee4f49" stroke="#2a2a2a" stroke-width="0.55"/>
<line x1="497.81" y1="144.1" x2="497.81" y2="158.9" stroke="#383838" stroke-width="0.9"/>
<rect x="496.66" y="153.1" width="2.30" height="5.4" fill="#ee4f49" stroke="#2a2a2a" stroke-width="0.55"/>
<line x1="501.66" y1="135.4" x2="501.66" y2="160.8" stroke="#383838" stroke-width="0.9"/>
<rect x="500.51" y="139.3" width="2.30" height="19.2" fill="#26a08c" stroke="#2a2a2a" stroke-width="0.55"/>
<line x1="505.52" y1="122.9" x2="505.52" y2="140.5" stroke="#383838" stroke-width="0.9"/>
<rect x="504.37" y="139.3" width="2.30" height="1.2" fill="#ee4f49" stroke="#2a2a2a" stroke-width="0.55"/>
<line x1="509.37" y1="132.8" x2="509.37" y2="159.8" stroke="#383838" stroke-width="0.9"/>
<rect x="508.22" y="140.3" width="2.30" height="7.1" fill="#ee4f49" stroke="#2a2a2a" stroke-width="0.55"/>
<line x1="513.23" y1="143.5" x2="513.23" y2="167.5" stroke="#383838" stroke-width="0.9"/>
<rect x="512.08" y="147.4" width="2.30" height="13.2" fill="#ee4f49" stroke="#2a2a2a" stroke-width="0.55"/>
<line x1="517.08" y1="153.8" x2="517.08" y2="162.8" stroke="#383838" stroke-width="0.9"/>
<line x1="515.78" y1="159.6" x2="518.38" y2="159.6" stroke="#333" stroke-width="0.9"/>
<line x1="520.94" y1="157.0" x2="520.94" y2="163.7" stroke="#383838" stroke-width="0.9"/>
<line x1="519.64" y1="159.6" x2="522.24" y2="159.6" stroke="#333" stroke-width="0.9"/>
<line x1="524.79" y1="157.0" x2="524.79" y2="168.3" stroke="#383838" stroke-width="0.9"/>
<line x1="523.49" y1="159.6" x2="526.09" y2="159.6" stroke="#333" stroke-width="0.9"/>
<line x1="528.64" y1="158.9" x2="528.64" y2="174.3" stroke="#383838" stroke-width="0.9"/>
<rect x="527.50" y="159.8" width="2.30" height="8.8" fill="#ee4f49" stroke="#2a2a2a" stroke-width="0.55"/>
<line x1="532.50" y1="154.4" x2="532.50" y2="172.2" stroke="#383838" stroke-width="0.9"/>
<rect x="531.35" y="168.3" width="2.30" height="3.5" fill="#ee4f49" stroke="#2a2a2a" stroke-width="0.55"/>
<line x1="536.36" y1="162.1" x2="536.36" y2="181.8" stroke="#383838" stroke-width="0.9"/>
<rect x="535.21" y="172.2" width="2.30" height="2.5" fill="#ee4f49" stroke="#2a2a2a" stroke-width="0.55"/>
<line x1="540.21" y1="167.9" x2="540.21" y2="183.0" stroke="#383838" stroke-width="0.9"/>
<rect x="539.06" y="175.0" width="2.30" height="6.4" fill="#ee4f49" stroke="#2a2a2a" stroke-width="0.55"/>
<line x1="544.07" y1="148.0" x2="544.07" y2="181.7" stroke="#383838" stroke-width="0.9"/>
<rect x="542.92" y="149.0" width="2.30" height="32.4" fill="#26a08c" stroke="#2a2a2a" stroke-width="0.55"/>
<line x1="547.92" y1="144.1" x2="547.92" y2="158.9" stroke="#383838" stroke-width="0.9"/>
<rect x="546.77" y="149.3" width="2.30" height="6.1" fill="#ee4f49" stroke="#2a2a2a" stroke-width="0.55"/>
<line x1="551.77" y1="144.4" x2="551.77" y2="156.7" stroke="#383838" stroke-width="0.9"/>
<rect x="550.62" y="145.2" width="2.30" height="10.2" fill="#26a08c" stroke="#2a2a2a" stroke-width="0.55"/>
<line x1="555.63" y1="144.8" x2="555.63" y2="151.6" stroke="#383838" stroke-width="0.9"/>
<rect x="554.48" y="145.2" width="2.30" height="6.0" fill="#ee4f49" stroke="#2a2a2a" stroke-width="0.55"/>
<line x1="559.49" y1="148.0" x2="559.49" y2="155.4" stroke="#383838" stroke-width="0.9"/>
<rect x="558.34" y="149.3" width="2.30" height="2.2" fill="#26a08c" stroke="#2a2a2a" stroke-width="0.55"/>
<line x1="563.34" y1="142.2" x2="563.34" y2="149.9" stroke="#383838" stroke-width="0.9"/>
<rect x="562.19" y="146.1" width="2.30" height="3.4" fill="#26a08c" stroke="#2a2a2a" stroke-width="0.55"/>
<line x1="567.20" y1="142.9" x2="567.20" y2="149.3" stroke="#383838" stroke-width="0.9"/>
<line x1="565.90" y1="146.1" x2="568.50" y2="146.1" stroke="#333" stroke-width="0.9"/>
<line x1="571.05" y1="145.7" x2="571.05" y2="163.7" stroke="#383838" stroke-width="0.9"/>
<rect x="569.90" y="146.1" width="2.30" height="16.7" fill="#ee4f49" stroke="#2a2a2a" stroke-width="0.55"/>
<line x1="574.90" y1="147.4" x2="574.90" y2="163.2" stroke="#383838" stroke-width="0.9"/>
<rect x="573.75" y="149.3" width="2.30" height="13.5" fill="#26a08c" stroke="#2a2a2a" stroke-width="0.55"/>
<line x1="578.76" y1="121.1" x2="578.76" y2="150.2" stroke="#383838" stroke-width="0.9"/>
<rect x="577.61" y="121.9" width="2.30" height="27.9" fill="#26a08c" stroke="#2a2a2a" stroke-width="0.55"/>
<line x1="582.62" y1="120.2" x2="582.62" y2="136.9" stroke="#383838" stroke-width="0.9"/>
<rect x="581.47" y="122.4" width="2.30" height="9.4" fill="#ee4f49" stroke="#2a2a2a" stroke-width="0.55"/>
<line x1="586.47" y1="131.4" x2="586.47" y2="141.7" stroke="#383838" stroke-width="0.9"/>
<rect x="585.32" y="131.8" width="2.30" height="2.9" fill="#ee4f49" stroke="#2a2a2a" stroke-width="0.55"/>
<line x1="590.33" y1="125.4" x2="590.33" y2="139.9" stroke="#383838" stroke-width="0.9"/>
<rect x="589.18" y="130.1" width="2.30" height="4.6" fill="#26a08c" stroke="#2a2a2a" stroke-width="0.55"/>
<line x1="594.18" y1="118.9" x2="594.18" y2="216.4" stroke="#383838" stroke-width="0.9"/>
<rect x="593.03" y="130.1" width="2.30" height="84.6" fill="#ee4f49" stroke="#2a2a2a" stroke-width="0.55"/>
<line x1="598.03" y1="185.2" x2="598.03" y2="217.2" stroke="#383838" stroke-width="0.9"/>
<rect x="596.88" y="214.7" width="2.30" height="2.5" fill="#ee4f49" stroke="#2a2a2a" stroke-width="0.55"/>
<line x1="601.89" y1="196.2" x2="601.89" y2="233.5" stroke="#383838" stroke-width="0.9"/>
<rect x="600.74" y="197.5" width="2.30" height="19.7" fill="#26a08c" stroke="#2a2a2a" stroke-width="0.55"/>
<line x1="605.75" y1="182.6" x2="605.75" y2="199.2" stroke="#383838" stroke-width="0.9"/>
<rect x="604.60" y="183.8" width="2.30" height="13.7" fill="#26a08c" stroke="#2a2a2a" stroke-width="0.55"/>
<line x1="609.60" y1="182.6" x2="609.60" y2="198.4" stroke="#383838" stroke-width="0.9"/>
<rect x="608.45" y="183.8" width="2.30" height="13.7" fill="#ee4f49" stroke="#2a2a2a" stroke-width="0.55"/>
<line x1="613.46" y1="189.3" x2="613.46" y2="204.7" stroke="#383838" stroke-width="0.9"/>
<rect x="612.31" y="195.0" width="2.30" height="2.5" fill="#26a08c" stroke="#2a2a2a" stroke-width="0.55"/>
<line x1="617.31" y1="192.1" x2="617.31" y2="204.7" stroke="#383838" stroke-width="0.9"/>
<rect x="616.16" y="195.0" width="2.30" height="1.3" fill="#ee4f49" stroke="#2a2a2a" stroke-width="0.55"/>
<line x1="621.17" y1="192.1" x2="621.17" y2="225.3" stroke="#383838" stroke-width="0.9"/>
<rect x="620.02" y="196.3" width="2.30" height="24.4" fill="#ee4f49" stroke="#2a2a2a" stroke-width="0.55"/>
<line x1="625.02" y1="214.3" x2="625.02" y2="240.3" stroke="#383838" stroke-width="0.9"/>
<rect x="623.87" y="220.7" width="2.30" height="9.7" fill="#ee4f49" stroke="#2a2a2a" stroke-width="0.55"/>
</g>
<text x="639.6" y="173.2" font-size="8.6" fill="#f9a23f" stroke="#f9a23f" font-weight="normal" textLength="44.2" lengthAdjust="spacingAndGlyphs" stroke-width="0.25">R2 (0.58619)</text>
<text x="639.6" y="234.5" font-size="8.6" fill="#f9a23f" stroke="#f9a23f" font-weight="normal" textLength="44.2" lengthAdjust="spacingAndGlyphs" stroke-width="0.25">R1 (0.58290)</text>
<text x="641.9" y="266.0" font-size="8.6" fill="#3a3a3a" stroke="#3a3a3a" font-weight="normal" textLength="39.9" lengthAdjust="spacingAndGlyphs" stroke-width="0.1">P (0.58124)</text>
<text x="639.9" y="327.8" font-size="8.6" fill="#f9a23f" stroke="#f9a23f" font-weight="normal" textLength="42.9" lengthAdjust="spacingAndGlyphs" stroke-width="0.25">S1 (0.57795)</text>
<line x1="737.8" y1="0" x2="737.8" y2="444" stroke="#787b89" stroke-width="1"/>
<line x1="6.5" y1="426.4" x2="774" y2="426.4" stroke="#787b89" stroke-width="1"/>
<text x="743.1" y="8.6" font-size="8.4" fill="#5d5f66" stroke="#5d5f66" font-weight="normal" textLength="25.0" lengthAdjust="spacingAndGlyphs" stroke-width="0.2">0.59500</text>
<text x="743.1" y="27.3" font-size="8.4" fill="#5d5f66" stroke="#5d5f66" font-weight="normal" textLength="25.0" lengthAdjust="spacingAndGlyphs" stroke-width="0.2">0.59400</text>
<text x="743.1" y="46.0" font-size="8.4" fill="#5d5f66" stroke="#5d5f66" font-weight="normal" textLength="25.0" lengthAdjust="spacingAndGlyphs" stroke-width="0.2">0.59300</text>
<text x="743.1" y="64.6" font-size="8.4" fill="#5d5f66" stroke="#5d5f66" font-weight="normal" textLength="25.0" lengthAdjust="spacingAndGlyphs" stroke-width="0.2">0.59200</text>
<text x="743.1" y="83.3" font-size="8.4" fill="#5d5f66" stroke="#5d5f66" font-weight="normal" textLength="25.0" lengthAdjust="spacingAndGlyphs" stroke-width="0.2">0.59100</text>
<text x="743.1" y="102.0" font-size="8.4" fill="#5d5f66" stroke="#5d5f66" font-weight="normal" textLength="25.0" lengthAdjust="spacingAndGlyphs" stroke-width="0.2">0.59000</text>
<text x="743.1" y="120.7" font-size="8.4" fill="#5d5f66" stroke="#5d5f66" font-weight="normal" textLength="25.0" lengthAdjust="spacingAndGlyphs" stroke-width="0.2">0.58900</text>
<text x="743.1" y="139.4" font-size="8.4" fill="#5d5f66" stroke="#5d5f66" font-weight="normal" textLength="25.0" lengthAdjust="spacingAndGlyphs" stroke-width="0.2">0.58800</text>
<text x="743.1" y="158.0" font-size="8.4" fill="#5d5f66" stroke="#5d5f66" font-weight="normal" textLength="25.0" lengthAdjust="spacingAndGlyphs" stroke-width="0.2">0.58700</text>
<text x="743.1" y="176.7" font-size="8.4" fill="#5d5f66" stroke="#5d5f66" font-weight="normal" textLength="25.0" lengthAdjust="spacingAndGlyphs" stroke-width="0.2">0.58600</text>
<text x="743.1" y="195.4" font-size="8.4" fill="#5d5f66" stroke="#5d5f66" font-weight="normal" textLength="25.0" lengthAdjust="spacingAndGlyphs" stroke-width="0.2">0.58500</text>
<text x="743.1" y="214.1" font-size="8.4" fill="#5d5f66" stroke="#5d5f66" font-weight="normal" textLength="25.0" lengthAdjust="spacingAndGlyphs" stroke-width="0.2">0.58400</text>
<text x="743.1" y="232.8" font-size="8.4" fill="#5d5f66" stroke="#5d5f66" font-weight="normal" textLength="25.0" lengthAdjust="spacingAndGlyphs" stroke-width="0.2">0.58300</text>
<text x="743.1" y="251.4" font-size="8.4" fill="#5d5f66" stroke="#5d5f66" font-weight="normal" textLength="25.0" lengthAdjust="spacingAndGlyphs" stroke-width="0.2">0.58200</text>
<text x="743.1" y="270.1" font-size="8.4" fill="#5d5f66" stroke="#5d5f66" font-weight="normal" textLength="25.0" lengthAdjust="spacingAndGlyphs" stroke-width="0.2">0.58100</text>
<text x="743.1" y="288.8" font-size="8.4" fill="#5d5f66" stroke="#5d5f66" font-weight="normal" textLength="25.0" lengthAdjust="spacingAndGlyphs" stroke-width="0.2">0.58000</text>
<text x="743.1" y="307.5" font-size="8.4" fill="#5d5f66" stroke="#5d5f66" font-weight="normal" textLength="25.0" lengthAdjust="spacingAndGlyphs" stroke-width="0.2">0.57900</text>
<text x="743.1" y="326.2" font-size="8.4" fill="#5d5f66" stroke="#5d5f66" font-weight="normal" textLength="25.0" lengthAdjust="spacingAndGlyphs" stroke-width="0.2">0.57800</text>
<text x="743.1" y="344.8" font-size="8.4" fill="#5d5f66" stroke="#5d5f66" font-weight="normal" textLength="25.0" lengthAdjust="spacingAndGlyphs" stroke-width="0.2">0.57700</text>
<text x="743.1" y="363.5" font-size="8.4" fill="#5d5f66" stroke="#5d5f66" font-weight="normal" textLength="25.0" lengthAdjust="spacingAndGlyphs" stroke-width="0.2">0.57600</text>
<text x="743.1" y="382.2" font-size="8.4" fill="#5d5f66" stroke="#5d5f66" font-weight="normal" textLength="25.0" lengthAdjust="spacingAndGlyphs" stroke-width="0.2">0.57500</text>
<text x="743.1" y="400.9" font-size="8.4" fill="#5d5f66" stroke="#5d5f66" font-weight="normal" textLength="25.0" lengthAdjust="spacingAndGlyphs" stroke-width="0.2">0.57400</text>
<text x="743.1" y="419.6" font-size="8.4" fill="#5d5f66" stroke="#5d5f66" font-weight="normal" textLength="25.0" lengthAdjust="spacingAndGlyphs" stroke-width="0.2">0.57300</text>
<rect x="737.9" y="154.2" width="33.1" height="11.0" rx="1.2" fill="#2d8cf3"/>
<text x="743.1" y="162.7" font-size="7.6" fill="#fff" stroke="#fff" font-weight="normal" textLength="25.0" lengthAdjust="spacingAndGlyphs" stroke-width="0.3">0.58677</text>
<rect x="737.9" y="299.8" width="33.1" height="10.9" rx="1.2" fill="#2d8cf3"/>
<text x="743.1" y="308.0" font-size="7.4" fill="#fff" stroke="#fff" font-weight="normal" textLength="25.0" lengthAdjust="spacingAndGlyphs" stroke-width="0.3">0.57900</text>
<path d="M708.6,225.1 H737.3 V235.7 H708.6 Q707.1,235.7 707.1,234.2 V226.6 Q707.1,225.1 708.6,225.1 Z" fill="#f04c4c"/>
<text x="709.8" y="233.2" font-size="7.8" fill="#fff" stroke="#fff" font-weight="normal" textLength="24.8" lengthAdjust="spacingAndGlyphs" stroke-width="0.25">CADCHF</text>
<text x="45.7" y="438.1" font-size="8.0" fill="#5d5f66" stroke="#5d5f66" font-weight="normal" textLength="17.0" lengthAdjust="spacingAndGlyphs" stroke-width="0.2">12:00</text>
<text x="96.6" y="438.1" font-size="8.0" fill="#5d5f66" stroke="#5d5f66" font-weight="normal" textLength="7.3" lengthAdjust="spacingAndGlyphs" stroke-width="0.2">25</text>
<text x="126.0" y="438.1" font-size="8.0" fill="#5d5f66" stroke="#5d5f66" font-weight="normal" textLength="18.0" lengthAdjust="spacingAndGlyphs" stroke-width="0.2">09:00</text>
<text x="162.3" y="438.1" font-size="8.0" fill="#5d5f66" stroke="#5d5f66" font-weight="normal" textLength="7.3" lengthAdjust="spacingAndGlyphs" stroke-width="0.2">27</text>
<text x="195.7" y="438.1" font-size="8.0" fill="#5d5f66" stroke="#5d5f66" font-weight="normal" textLength="17.6" lengthAdjust="spacingAndGlyphs" stroke-width="0.2">03:00</text>
<text x="231.0" y="438.1" font-size="8.0" fill="#5d5f66" stroke="#5d5f66" font-weight="normal" textLength="17.3" lengthAdjust="spacingAndGlyphs" stroke-width="0.2">12:00</text>
<text x="282.1" y="438.1" font-size="8.0" fill="#5d5f66" stroke="#5d5f66" font-weight="normal" textLength="7.3" lengthAdjust="spacingAndGlyphs" stroke-width="0.2">29</text>
<text x="323.4" y="438.1" font-size="8.0" fill="#5d5f66" stroke="#5d5f66" font-weight="normal" textLength="17.3" lengthAdjust="spacingAndGlyphs" stroke-width="0.2">12:00</text>
<text x="374.4" y="438.1" font-size="8.0" fill="#5d5f66" stroke="#5d5f66" font-weight="normal" textLength="7.3" lengthAdjust="spacingAndGlyphs" stroke-width="0.2">30</text>
<text x="415.9" y="438.1" font-size="8.0" fill="#5d5f66" stroke="#5d5f66" font-weight="normal" textLength="17.3" lengthAdjust="spacingAndGlyphs" stroke-width="0.2">12:00</text>
<text x="466.7" y="438.1" font-size="8.0" fill="#5d5f66" stroke="#5d5f66" font-weight="normal" textLength="7.0" lengthAdjust="spacingAndGlyphs" stroke-width="0.2">31</text>
<text x="508.0" y="438.1" font-size="8.0" fill="#5d5f66" stroke="#5d5f66" font-weight="normal" textLength="17.6" lengthAdjust="spacingAndGlyphs" stroke-width="0.2">12:00</text>
<text x="588.7" y="438.1" font-size="8.0" fill="#5d5f66" stroke="#5d5f66" font-weight="normal" textLength="18.0" lengthAdjust="spacingAndGlyphs" stroke-width="0.2">09:00</text>
<text x="626.9" y="438.1" font-size="8.0" fill="#5d5f66" stroke="#5d5f66" font-weight="normal" textLength="3.2" lengthAdjust="spacingAndGlyphs" stroke-width="0.2">3</text>
<text x="658.4" y="438.1" font-size="8.0" fill="#5d5f66" stroke="#5d5f66" font-weight="normal" textLength="17.6" lengthAdjust="spacingAndGlyphs" stroke-width="0.2">03:00</text>
<text x="693.4" y="438.1" font-size="8.0" fill="#5d5f66" stroke="#5d5f66" font-weight="normal" textLength="17.6" lengthAdjust="spacingAndGlyphs" stroke-width="0.2">12:00</text>
<text x="557.0" y="438.1" font-size="8.0" fill="#333" stroke="#333" font-weight="bold" textLength="12.4" lengthAdjust="spacingAndGlyphs" stroke-width="0">Aug</text>
<clipPath id="cl"><rect x="6.8" y="428" width="20" height="14"/></clipPath>
<g clip-path="url(#cl)">
<text x="4.4" y="438.1" font-size="8.0" fill="#5d5f66" stroke="#5d5f66" font-weight="normal" textLength="7.3" lengthAdjust="spacingAndGlyphs" stroke-width="0.2">24</text>
</g>
<g fill="#161616">
<path d="M6.3,452.2 h6.1 v6.2 h-3.6 v-3.7 h-2.5 z"/>
<circle cx="13.9" cy="453.5" r="1.3"/>
<path d="M15.6,452.2 h3.3 l-2.6,6.2 h-3.3 z"/>
</g>
<text x="22.0" y="459.0" font-size="9.8" fill="#2b2b2b" stroke="#2b2b2b" font-weight="normal" textLength="45.0" lengthAdjust="spacingAndGlyphs" stroke-width="0.2">TradingView</text>
</svg>
</body></html>
